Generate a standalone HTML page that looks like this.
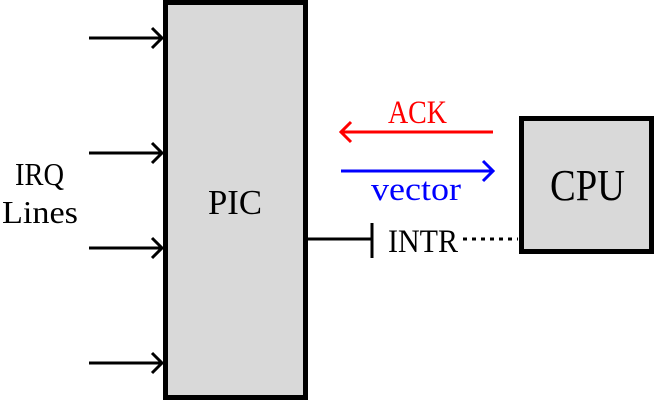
<!DOCTYPE html>
<html><head><meta charset="utf-8"><style>
html,body{margin:0;padding:0;background:#fff;}
svg{display:block;}
text{font-family:"Liberation Serif","DejaVu Serif",serif;}
</style></head><body>
<svg width="657" height="401" viewBox="0 0 657 401" xmlns="http://www.w3.org/2000/svg">
<rect x="165.5" y="2.5" width="140" height="395" fill="#d9d9d9" stroke="#000" stroke-width="5"/>
<rect x="521.5" y="118.5" width="130" height="133" fill="#d9d9d9" stroke="#000" stroke-width="5"/>
<g stroke="#000" stroke-width="3" fill="none">
<line x1="89" y1="38" x2="162" y2="38"/><polyline points="152,28 162,38 152,48"/>
<line x1="89" y1="153" x2="162" y2="153"/><polyline points="152,143 162,153 152,163"/>
<line x1="89" y1="248" x2="162" y2="248"/><polyline points="152,238 162,248 152,258"/>
<line x1="89" y1="363" x2="162" y2="363"/><polyline points="152,353 162,363 152,373"/>
<line x1="308" y1="239" x2="372" y2="239"/>
<line x1="372" y1="223" x2="372" y2="258"/>
</g>
<line x1="463" y1="239" x2="518" y2="239" stroke="#000" stroke-width="3" stroke-dasharray="4,5"/>
<g stroke="#f00" stroke-width="3" fill="none">
<line x1="341" y1="132" x2="493" y2="132"/><polyline points="351,122 341,132 351,142"/>
</g>
<g stroke="#00f" stroke-width="3" fill="none">
<line x1="341" y1="171" x2="493" y2="171"/><polyline points="483,161 493,171 483,181"/>
</g>
<text x="388" y="123" font-size="33" fill="#f00" textLength="59" lengthAdjust="spacingAndGlyphs">ACK</text>
<text x="371" y="200" font-size="33" fill="#00f" textLength="90" lengthAdjust="spacingAndGlyphs">vector</text>
<text x="388" y="252" font-size="33" fill="#000" textLength="70" lengthAdjust="spacingAndGlyphs">INTR</text>
<text x="550" y="200" font-size="44" fill="#000" textLength="75" lengthAdjust="spacingAndGlyphs">CPU</text>
<text x="208" y="214" font-size="35" fill="#000" textLength="54" lengthAdjust="spacingAndGlyphs">PIC</text>
<text x="15" y="185" font-size="32" fill="#000" textLength="49" lengthAdjust="spacingAndGlyphs">IRQ</text>
<text x="2" y="223" font-size="32" fill="#000" textLength="76" lengthAdjust="spacingAndGlyphs">Lines</text>
</svg>
</body></html>
